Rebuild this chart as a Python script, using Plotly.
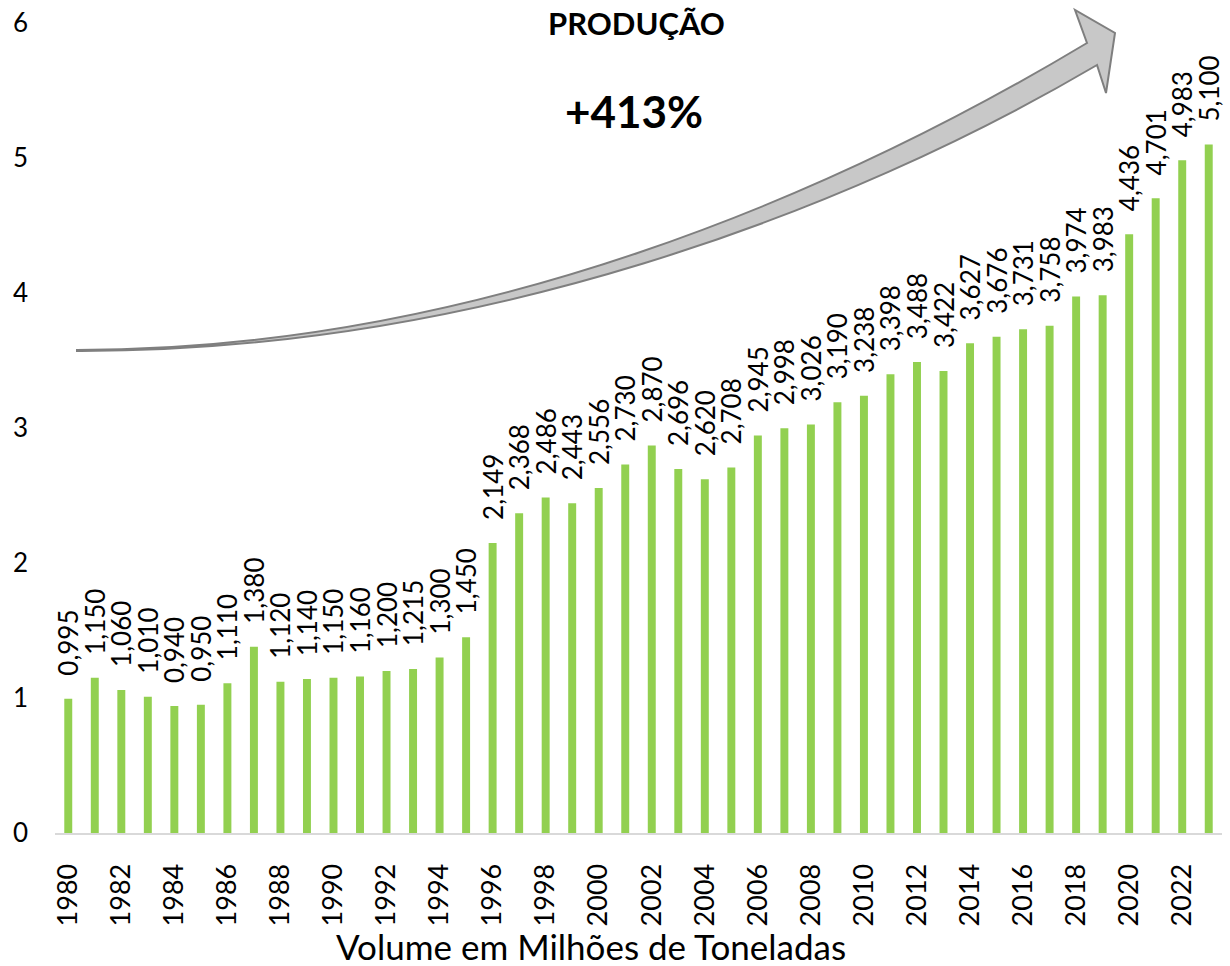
import plotly.graph_objects as go

years = list(range(1980, 2024))
production = [0.995, 1.150, 1.060, 1.010, 0.940, 0.950, 1.110, 1.380, 1.120, 1.140,
              1.150, 1.160, 1.200, 1.215, 1.300, 1.450, 2.149, 2.368, 2.486, 2.443,
              2.556, 2.730, 2.870, 2.696, 2.620, 2.708, 2.945, 2.998, 3.026, 3.190,
              3.238, 3.398, 3.488, 3.422, 3.627, 3.676, 3.731, 3.758, 3.974, 3.983,
              4.436, 4.701, 4.983, 5.100]
tick_years = list(range(1980, 2024, 2))
y_ticks = [0, 1, 2, 3, 4, 5, 6]
title_text = "PRODUÇÃO"
growth_text = "+413%"
axis_title = "Volume em Milhões de Toneladas"

labels = ["\u00a0\u00a0\u00a0" + f"{v:.3f}".replace(".", ",") for v in production]

W, H = 1230, 966
ML, MR, MT, MB = 55, 8, 23, 133
PW, PH = W - ML - MR, H - MT - MB
FONT = "Lato"


def px(x, y):
    return (x - ML) / PW, (H - MB - y) / PH


def fmt(x, y):
    a, b = px(x, y)
    return f"{a:.5f},{b:.5f}"


arrow_path = (
    "M " + fmt(77, 350) + " C " + fmt(477, 350) + " " + fmt(837, 193) + " " + fmt(1087, 43)
    + " L " + fmt(1075, 10) + " L " + fmt(1115, 33) + " L " + fmt(1106, 93) + " L " + fmt(1097, 65)
    + " C " + fmt(847, 212) + " " + fmt(477, 352) + " " + fmt(77, 351) + " Z"
)

fig = go.Figure()
fig.add_trace(go.Bar(
    x=years, y=production, width=0.3,
    marker=dict(color="#92d050", line=dict(width=0)),
    text=labels, textposition="outside", textangle=-90,
    constraintext="none", cliponaxis=False,
    textfont=dict(family=FONT, size=26, color="#000000"),
    hoverinfo="x+y",
))

fig.update_layout(
    width=W, height=H,
    margin=dict(l=ML, r=MR, t=MT, b=MB, autoexpand=False),
    paper_bgcolor="white", plot_bgcolor="white",
    showlegend=False,
    font=dict(family=FONT, color="#000000"),
    xaxis=dict(range=[1979.5, 2023.5], tickmode="array", tickvals=tick_years,
               ticktext=[str(t) for t in tick_years], tickangle=-90,
               tickfont=dict(family=FONT, size=27, color="#000000"),
               showgrid=False, zeroline=False, showline=True,
               linecolor="#d9d9d9", linewidth=2, ticks="", ticklabelstandoff=18),
    yaxis=dict(range=[0, 6], tickmode="array", tickvals=y_ticks,
               tickfont=dict(family=FONT, size=26, color="#000000"),
               showgrid=False, zeroline=False, showline=False, ticks="",
               ticklabelstandoff=26),
    shapes=[dict(type="path", xref="paper", yref="paper", path=arrow_path,
                 fillcolor="#c8c8c8", line=dict(color="#7f7f7f", width=2), layer="above")],
)

ax, ay = px(636, 23)
fig.add_annotation(xref="paper", yref="paper", x=ax, y=ay, text="<b>" + title_text + "</b>",
                   showarrow=False, xanchor="center", yanchor="middle",
                   font=dict(family=FONT, size=31, color="#000000"))
ax, ay = px(634, 111)
fig.add_annotation(xref="paper", yref="paper", x=ax, y=ay, text="<b>" + growth_text + "</b>",
                   showarrow=False, xanchor="center", yanchor="middle",
                   font=dict(family=FONT, size=44, color="#000000"))
ax, ay = px(591, 946)
fig.add_annotation(xref="paper", yref="paper", x=ax, y=ay, text=axis_title,
                   showarrow=False, xanchor="center", yanchor="middle",
                   font=dict(family=FONT, size=35, color="#000000"))

fig.write_html("out.html", config={"displayModeBar": False},
               post_script="document.body.style.margin='0';")
